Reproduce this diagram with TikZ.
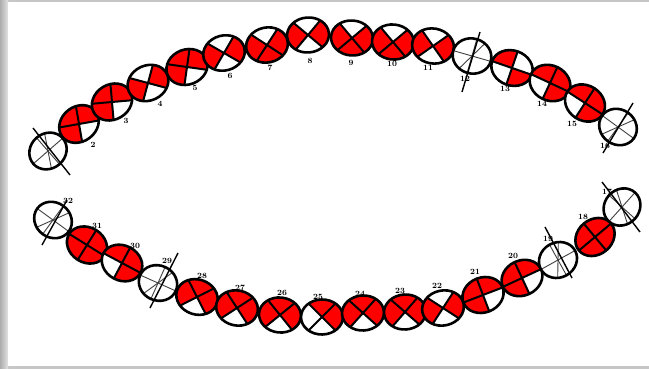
\documentclass[tikz,border=0pt]{standalone}
\colorlet{tr}{red}
\colorlet{tw}{white}
\newcommand\tooth[8]{%
 \begin{scope}[shift={(#1,-#2)}]
  \begin{scope}
   \clip[rotate=#3] (0,0) ellipse (21 and 17.5);
   \fill[#5] (0,0) -- (#4:30) -- (#4+45:40) -- (#4+90:30) -- cycle;
   \fill[#6] (0,0) -- (#4+90:30) -- (#4+135:40) -- (#4+180:30) -- cycle;
   \fill[#7] (0,0) -- (#4+180:30) -- (#4+225:40) -- (#4+270:30) -- cycle;
   \fill[#8] (0,0) -- (#4+270:30) -- (#4+315:40) -- (#4+360:30) -- cycle;
   \draw[divline] (#4:30) -- (#4+180:30) (#4+90:30) -- (#4+270:30);
  \end{scope}
  \draw[toothline,rotate=#3] (0,0) ellipse (21 and 17.5);
 \end{scope}}
\newcommand\mtooth[3]{%
 \begin{scope}[shift={(#1,-#2)}]
  \fill[white,rotate=#3] (0,0) ellipse (19.5 and 17.5);
  \begin{scope}
   \clip[rotate=#3] (0,0) ellipse (19.5 and 17.5);
   \draw[thinline] (#3:25) -- (#3+180:25) (#3+90:25) -- (#3+270:25);
   \draw[thinline] (#3+60:25) -- (#3+240:25);
  \end{scope}
  \draw[toothline,rotate=#3] (0,0) ellipse (19.5 and 17.5);
 \end{scope}}
\begin{document}
\begin{tikzpicture}[x=1pt,y=1pt,
 toothline/.style={draw=black,line width=2.6pt},
 divline/.style={draw=black,line width=2pt},
 thinline/.style={draw=black!75,line width=0.9pt},
 slashline/.style={draw=black,line width=1.4pt},
 lbl/.style={font=\fontsize{8}{8}\selectfont\bfseries,inner sep=0pt}]
% frame
\useasboundingbox (0,0) rectangle (649,-369);
\fill[gray!45] (0,0) rectangle (649,-369);
\shade[left color=gray!65,right color=gray!22] (0,0) rectangle (8,-369);
\fill[white] (8,-2) rectangle (649,-366);
% upper arch
\mtooth{48}{151}{41}
\tooth{79}{124}{37}{10}{tr}{tr}{tr}{tw}
\tooth{112}{102}{31}{5}{tr}{tr}{tr}{tw}
\tooth{148}{83}{25}{-15}{tr}{tw}{tr}{tw}
\tooth{187}{67}{21}{-8}{tr}{tr}{tr}{tw}
\tooth{224}{53}{15}{-30}{tr}{tw}{tr}{tw}
\tooth{267}{45}{12}{-33}{tr}{tw}{tr}{tr}
\tooth{308}{35}{5}{-40}{tr}{tw}{tr}{tw}
\tooth{352}{38}{-5}{-50}{tr}{tw}{tr}{tr}
\tooth{393}{42}{-6}{-50}{tr}{tw}{tr}{tr}
\tooth{433}{46}{-10}{-55}{tr}{tw}{tr}{tw}
\mtooth{472}{56}{-16}
\tooth{512}{68}{-19}{-19}{tw}{tr}{tw}{tr}
\tooth{550}{83}{-26}{-25}{tr}{tr}{tw}{tr}
\tooth{585}{103}{-33}{-33}{tr}{tr}{tw}{tr}
\mtooth{618}{127}{-36}
% lower arch
\mtooth{53}{220}{-36}
\tooth{87}{245}{-32}{-32}{tr}{tr}{tr}{tr}
\tooth{122}{263}{-28}{-28}{tr}{tr}{tw}{tr}
\mtooth{158}{283}{-24}
\tooth{197}{297}{-18}{-63}{tr}{tr}{tr}{tw}
\tooth{237}{308}{-12}{-57}{tr}{tr}{tr}{tw}
\tooth{280}{315}{-6}{-51}{tr}{tr}{tr}{tw}
\tooth{322}{317}{1}{-45}{tr}{tr}{tw}{tw}
\tooth{363}{313}{3}{-42}{tr}{tr}{tr}{tw}
\tooth{405}{312}{4}{-41}{tr}{tr}{tr}{tw}
\tooth{443}{308}{12}{-33}{tr}{tw}{tr}{tw}
\tooth{483}{295}{21}{21}{tr}{tr}{tr}{tw}
\tooth{522}{278}{25}{25}{tr}{tr}{tr}{tw}
\mtooth{558}{260}{29}
\tooth{595}{237}{40}{40}{tr}{tr}{tr}{tr}
\mtooth{622}{207}{48}
% slashes over missing teeth
\coordinate (s1a) at (33,-128); \coordinate (s1b) at (70,-175);
\coordinate (s12a) at (480,-32); \coordinate (s12b) at (462,-92);
\coordinate (s16a) at (633,-103); \coordinate (s16b) at (603,-153);
\coordinate (s32a) at (67,-200); \coordinate (s32b) at (42,-245);
\coordinate (s29a) at (178,-253); \coordinate (s29b) at (150,-308);
\coordinate (s19a) at (545,-227); \coordinate (s19b) at (572,-278);
\coordinate (s17a) at (602,-182); \coordinate (s17b) at (640,-232);
\draw[slashline] (s1a) -- (s1b);
\draw[slashline] (s12a) -- (s12b);
\draw[slashline] (s16a) -- (s16b);
\draw[slashline] (s32a) -- (s32b);
\draw[slashline] (s29a) -- (s29b);
\draw[slashline] (s19a) -- (s19b);
\draw[slashline] (s17a) -- (s17b);
% labels upper
\node[lbl] (l2) at (93,-145) {2};
\node[lbl] (l3) at (126,-121) {3};
\node[lbl] (l4) at (160,-104) {4};
\node[lbl] (l5) at (195,-88) {5};
\node[lbl] (l6) at (230,-76) {6};
\node[lbl] (l7) at (270,-68) {7};
\node[lbl] (l8) at (310,-61) {8};
\node[lbl] (l9) at (351,-63) {9};
\node[lbl] (l10) at (392,-64) {10};
\node[lbl] (l11) at (428,-68) {11};
\node[lbl] (l12) at (465,-79) {12};
\node[lbl] (l13) at (505,-89) {13};
\node[lbl] (l14) at (542,-104) {14};
\node[lbl] (l15) at (572,-124) {15};
\node[lbl] (l16) at (605,-146) {16};
% labels lower
\node[lbl] (l32) at (68,-201) {32};
\node[lbl] (l31) at (97,-226) {31};
\node[lbl] (l30) at (135,-246) {30};
\node[lbl] (l29) at (167,-261) {29};
\node[lbl] (l28) at (202,-276) {28};
\node[lbl] (l27) at (240,-288) {27};
\node[lbl] (l26) at (282,-293) {26};
\node[lbl] (l25) at (318,-297) {25};
\node[lbl] (l24) at (360,-294) {24};
\node[lbl] (l23) at (400,-291) {23};
\node[lbl] (l22) at (437,-286) {22};
\node[lbl] (l21) at (475,-272) {21};
\node[lbl] (l20) at (513,-256) {20};
\node[lbl] (l19) at (548,-239) {19};
\node[lbl] (l18) at (583,-217) {18};
\node[lbl] (l17) at (607,-192) {17};
\end{tikzpicture}
\end{document}
